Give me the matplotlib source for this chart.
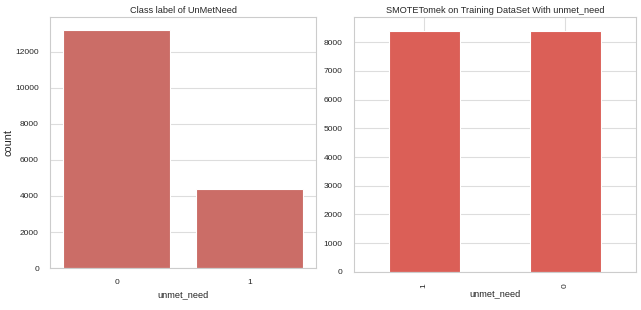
import matplotlib
matplotlib.use("Agg")
import matplotlib.pyplot as plt
import seaborn as sns
import colorsys

sns.set_theme(style="whitegrid")
plt.rcParams['font.family'] = ['Liberation Sans', 'DejaVu Sans']

# Data
left_categories = ["0", "1"]
left_counts = [13190, 4370]
right_categories = ["1", "0"]
right_counts = [8395, 8392]

base = sns.color_palette("hls", 8)[0]
h, l, s = colorsys.rgb_to_hls(*base)
desat = colorsys.hls_to_rgb(h, l, s * 0.75)

txt = "#262626"

fig = plt.figure(figsize=(6.41, 3.10), dpi=100)
ax1 = fig.add_axes([0.078, 0.135, 0.415, 0.81])
ax2 = fig.add_axes([0.552, 0.123, 0.44, 0.822])

x1 = range(len(left_categories))
ax1.bar(x1, left_counts, width=0.8, color=desat, edgecolor="white", linewidth=0.8, zorder=2)
ax1.set_xticks(list(x1))
ax1.set_xticklabels(left_categories)
ax1.set_xlim(-0.5, 1.5)
ax1.set_ylim(0, max(left_counts) * 1.055)
ax1.set_yticks(range(0, 13000, 2000))
ax1.set_title("Class label of UnMetNeed", fontsize=6.6, pad=3, color=txt)
ax1.set_xlabel("unmet_need", fontsize=6.7, labelpad=3, color=txt)
ax1.set_ylabel("count", fontsize=7.8, labelpad=1, color=txt)
ax1.tick_params(labelsize=6.0, pad=2, labelcolor=txt)

x2 = range(len(right_categories))
ax2.bar(x2, right_counts, width=0.5, color=base, edgecolor="white", linewidth=0.8, zorder=2)
ax2.set_xticks(list(x2))
ax2.set_xticklabels(right_categories, rotation=90)
ax2.set_xlim(-0.5, 1.5)
ax2.set_ylim(0, max(right_counts) * 1.057)
ax2.set_yticks(range(0, 9000, 1000))
ax2.set_title("SMOTETomek on Training DataSet With unmet_need", fontsize=6.6, pad=3, color=txt)
ax2.set_xlabel("unmet_need", fontsize=6.7, labelpad=1, color=txt)
ax2.tick_params(labelsize=6.0, pad=2, labelcolor=txt)

for ax in (ax1, ax2):
    ax.set_axisbelow(True)
    for sp in ax.spines.values():
        sp.set_color("#cccccc")
        sp.set_linewidth(0.8)
    ax.grid(color="#dddddd", linewidth=0.8)
ax1.grid(axis="x", visible=False)

fig.savefig("out.png", dpi=100)
